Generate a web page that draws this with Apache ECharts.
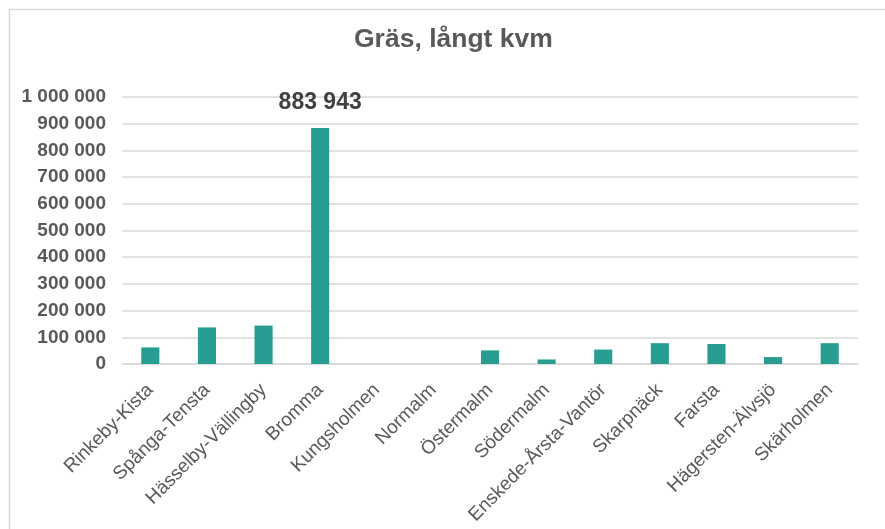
<!DOCTYPE html>
<html><head><meta charset="utf-8">
<script src="https://cdn.jsdelivr.net/npm/echarts@6/dist/echarts.min.js"></script>
<style>html,body{margin:0;padding:0;background:#fff}#c{width:885px;height:529px}</style>
</head><body><div id="c"></div>
<script>
const titleText = 'Gräs, långt kvm';
const categories = ['Rinkeby-Kista','Spånga-Tensta','Hässelby-Vällingby','Bromma','Kungsholmen','Normalm','Östermalm','Södermalm','Enskede-Årsta-Vantör','Skarpnäck','Farsta','Hägersten-Älvsjö','Skärholmen'];
const values = [62000, 137000, 144000, 883943, 0, 0, 51000, 17000, 54000, 78000, 75000, 26000, 78000];
const labeledCategory = 'Bromma';

function fmt(v){ return String(Math.round(v)).replace(/\B(?=(\d{3})+(?!\d))/g,' '); }

const chart = echarts.init(document.getElementById('c'));
chart.setOption({
  animation:false,
  backgroundColor:'#fff',
  graphic:[{type:'rect',shape:{x:9.5,y:9.5,width:900,height:600},style:{fill:'none',stroke:'#d9d9d9',lineWidth:1.5},silent:true}],
  title:{text:titleText,left:349,top:21,textStyle:{fontFamily:'Liberation Sans, Arial',fontSize:26.5,fontWeight:'bold',color:'#595959'}},
  grid:{left:122,right:27,top:97,bottom:165,containLabel:false},
  xAxis:{type:'category',data:categories,
    axisLine:{show:true,lineStyle:{color:'#d9d9d9',width:1.5}},
    axisTick:{show:false},
    axisLabel:{rotate:45,interval:0,margin:23,fontFamily:'Liberation Sans, Arial',fontSize:19,color:'#595959'}},
  yAxis:{type:'value',min:0,max:1000000,interval:100000,
    axisLine:{show:false},axisTick:{show:false},
    splitLine:{lineStyle:{color:'#d9d9d9',width:1.5}},
    axisLabel:{margin:16,fontFamily:'Liberation Sans, Arial',fontSize:19,fontWeight:'bold',color:'#595959',formatter:fmt}},
  series:[{type:'bar',barCategoryGap:'68%',
    itemStyle:{color:'#289D91'},
    data:values.map((v,i)=>categories[i]===labeledCategory?{value:v,label:{show:true,position:'top',distance:14,formatter:p=>fmt(p.value),fontFamily:'Liberation Sans, Arial',fontSize:23,fontWeight:'bold',color:'#404040'}}:v)
  }]
});
</script></body></html>
